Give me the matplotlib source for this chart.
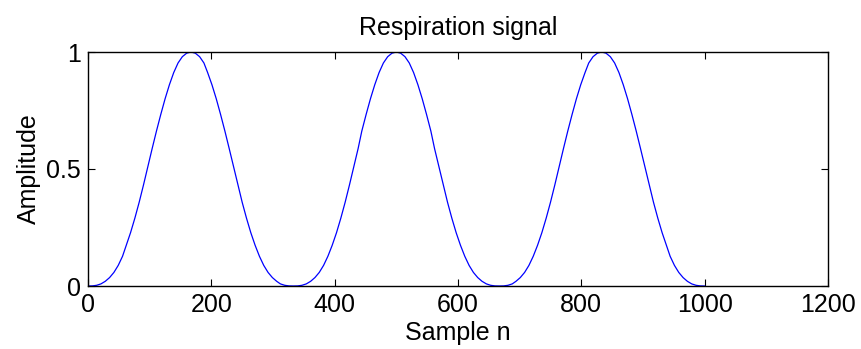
import matplotlib
matplotlib.use("Agg")
import matplotlib.pyplot as plt

plt.rcParams['font.family'] = ['Liberation Sans', 'DejaVu Sans']

# sample positions (n) and amplitude
n = [0, 7, 14, 21, 28, 35, 42, 49, 56, 62, 69, 76, 83, 90, 97, 104, 111, 118,
     125, 132, 139, 146, 153, 160, 167, 174, 181, 188, 194, 201, 208, 215, 222,
     229, 236, 243, 250, 257, 264, 271, 278, 285, 292, 299, 306, 312, 319, 326,
     333, 340, 347, 354, 361, 368, 375, 382, 389, 396, 403, 410, 417, 424, 431,
     438, 444, 451, 458, 465, 472, 479, 486, 493, 500, 507, 514, 521, 528, 535,
     542, 549, 556, 562, 569, 576, 583, 590, 597, 604, 611, 618, 625, 632, 639,
     646, 653, 660, 667, 674, 681, 688, 694, 701, 708, 715, 722, 729, 736, 743,
     750, 757, 764, 771, 778, 785, 792, 799, 806, 812, 819, 826, 833, 840, 847,
     854, 861, 868, 875, 882, 889, 896, 903, 910, 917, 924, 931, 938, 944, 951,
     958, 965, 972, 979, 986, 993, 1000]
amp = [0.0, 0.0004, 0.003, 0.009, 0.02, 0.036, 0.058, 0.088, 0.127, 0.174,
       0.228, 0.29, 0.358, 0.432, 0.51, 0.587, 0.662, 0.733, 0.80, 0.86, 0.912,
       0.953, 0.98, 0.995, 1.0, 0.995, 0.98, 0.953, 0.912, 0.86, 0.80, 0.733,
       0.662, 0.587, 0.51, 0.432, 0.358, 0.29, 0.228, 0.174, 0.127, 0.088,
       0.058, 0.036, 0.02, 0.009, 0.003, 0.0004,
       0.0, 0.0004, 0.003, 0.009, 0.02, 0.036, 0.058, 0.088, 0.127, 0.174,
       0.228, 0.29, 0.358, 0.432, 0.51, 0.587, 0.662, 0.733, 0.80, 0.86, 0.912,
       0.953, 0.98, 0.995, 1.0, 0.995, 0.98, 0.953, 0.912, 0.86, 0.80, 0.733,
       0.662, 0.587, 0.51, 0.432, 0.358, 0.29, 0.228, 0.174, 0.127, 0.088,
       0.058, 0.036, 0.02, 0.009, 0.003, 0.0004,
       0.0, 0.0004, 0.003, 0.009, 0.02, 0.036, 0.058, 0.088, 0.127, 0.174,
       0.228, 0.29, 0.358, 0.432, 0.51, 0.587, 0.662, 0.733, 0.80, 0.86, 0.912,
       0.953, 0.98, 0.995, 1.0, 0.995, 0.98, 0.953, 0.912, 0.86, 0.80, 0.733,
       0.662, 0.587, 0.51, 0.432, 0.358, 0.29, 0.228, 0.174, 0.127, 0.088,
       0.058, 0.036, 0.02, 0.009, 0.003, 0.0004, 0.0]

xticks = [0, 200, 400, 600, 800, 1000, 1200]
yticks = [0, 0.5, 1]
ytick_labels = ['0', '0.5', '1']

fig = plt.figure(figsize=(8.61, 3.49), dpi=100)
ax = fig.add_axes([88/861, 63/349, 740/861, 234/349])
ax.plot(n, amp, color='#0000ff', lw=0.9)
ax.set_xlim(0, 1200)
ax.set_ylim(0, 1)
ax.set_xticks(xticks)
ax.set_yticks(yticks)
ax.set_yticklabels(ytick_labels)
ax.tick_params(direction='in', length=5, width=0.8, labelsize=18,
               top=True, right=True, pad=5)
for s in ax.spines.values():
    s.set_linewidth(1.0)
ax.set_title('Respiration signal', fontsize=18, pad=12)
ax.set_xlabel('Sample n', fontsize=18, labelpad=3)
ax.set_ylabel('Amplitude', fontsize=18, labelpad=4)

fig.savefig('out.png', dpi=100)
